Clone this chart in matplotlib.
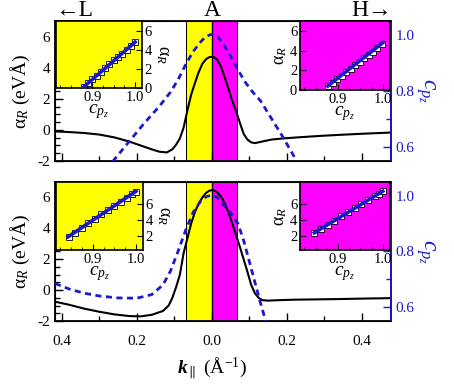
import matplotlib
matplotlib.use("Agg")
from matplotlib import pyplot as plt
from matplotlib.ticker import MultipleLocator, FuncFormatter

plt.rcParams["font.family"] = ["Liberation Serif", "DejaVu Serif"]
plt.rcParams["mathtext.fontset"] = "custom"
plt.rcParams["mathtext.rm"] = "Liberation Serif"
plt.rcParams["mathtext.it"] = "Liberation Serif:italic"
plt.rcParams["mathtext.bf"] = "Liberation Serif:bold:italic"

BLUE = "#1a1acc"
YELLOW = "#ffff00"
MAGENTA = "#ff00ff"

# ---- main panels: alpha_R (left axis) and c_pz (right axis) vs k ----
k_top = [-0.418, -0.38, -0.34, -0.30, -0.26, -0.22, -0.19, -0.16, -0.14, -0.12,
         -0.105, -0.095, -0.085, -0.075, -0.065, -0.055, -0.045, -0.035, -0.025,
         -0.015, -0.007, 0.0, 0.007, 0.015, 0.025, 0.035, 0.045, 0.055, 0.065,
         0.075, 0.085, 0.095, 0.105, 0.115, 0.125, 0.14, 0.16, 0.19, 0.23, 0.28,
         0.34, 0.40, 0.478]
alpha_top = [-0.10, -0.14, -0.20, -0.30, -0.48, -0.75, -1.00, -1.25, -1.40, -1.45,
             -1.25, -0.95, -0.55, 0.15, 1.25, 2.25, 3.00, 3.70, 4.25,
             4.55, 4.67, 4.70, 4.66, 4.50, 4.05, 3.35, 2.60, 1.85, 1.20,
             0.45, -0.25, -0.62, -0.80, -0.85, -0.80, -0.72, -0.62, -0.55, -0.48, -0.40,
             -0.32, -0.25, -0.17]

kc_top = [-0.30, -0.26, -0.22, -0.18, -0.14, -0.11, -0.09, -0.07, -0.05, -0.03,
          -0.015, 0.0, 0.015, 0.03, 0.05, 0.07, 0.09, 0.11, 0.13, 0.16, 0.19,
          0.22, 0.25]
cpz_top = [0.49, 0.555, 0.62, 0.685, 0.745, 0.796, 0.84, 0.893, 0.94, 0.975,
           0.995, 1.003, 0.995, 0.97, 0.925, 0.875, 0.83, 0.795, 0.765, 0.70, 0.635,
           0.565, 0.495]

k_bot = [-0.418, -0.38, -0.34, -0.30, -0.26, -0.22, -0.19, -0.16, -0.13, -0.115,
         -0.105, -0.095, -0.085, -0.075, -0.065, -0.055, -0.045, -0.035, -0.025,
         -0.015, -0.007, 0.0, 0.007, 0.015, 0.025, 0.035, 0.045, 0.055, 0.065,
         0.075, 0.085, 0.095, 0.105, 0.115, 0.125, 0.135, 0.15, 0.18, 0.22, 0.28,
         0.34, 0.40, 0.478]
alpha_bot = [-0.75, -0.95, -1.20, -1.40, -1.57, -1.68, -1.70, -1.60, -1.35, -1.00,
             -0.50, 0.20, 1.00, 2.40, 3.35, 4.30, 5.05, 5.60, 6.00,
             6.30, 6.43, 6.48, 6.44, 6.32, 6.05, 5.60, 5.00, 4.30, 3.55,
             2.80, 2.00, 1.20, 0.35, -0.20, -0.50, -0.65, -0.68, -0.65, -0.62, -0.60,
             -0.58, -0.55, -0.52]

kc_bot = [-0.418, -0.38, -0.34, -0.30, -0.25, -0.20, -0.16, -0.13, -0.11, -0.09,
          -0.07, -0.05, -0.03, -0.015, 0.0, 0.015, 0.03, 0.05, 0.07, 0.085, 0.10,
          0.115, 0.13, 0.145, 0.16]
cpz_bot = [0.685, 0.665, 0.65, 0.64, 0.633, 0.632, 0.645, 0.68, 0.73, 0.80,
           0.875, 0.94, 0.98, 0.997, 1.003, 0.995, 0.97, 0.94, 0.90, 0.84, 0.765,
           0.69, 0.615, 0.545, 0.47]

# ---- insets: alpha_R vs c_pz ----
c_tl = [0.880, 0.890, 0.900, 0.910, 0.920, 0.930, 0.940, 0.950, 0.960, 0.970, 0.980, 0.990, 1.000]
a_tl = [0.1, 0.5, 0.9, 1.3, 1.7, 2.1, 2.5, 2.9, 3.2, 3.6, 4.0, 4.4, 4.8]
fit_c_tl = [0.877, 1.0]
fit_a_tl = [0.0, 4.8]

c_tr = [0.878, 0.888, 0.898, 0.908, 0.918, 0.928, 0.938, 0.948, 0.958, 0.968, 0.978, 0.988, 0.998]
a_tr = [0.4, 0.75, 1.1, 1.45, 1.8, 2.15, 2.5, 2.85, 3.2, 3.55, 3.9, 4.25, 4.7]
fit_c_tr = [0.877, 1.0]
fit_a_tr = [0.4, 4.8]

c_bl = [0.845, 0.86, 0.875, 0.89, 0.905, 0.92, 0.935, 0.95, 0.965, 0.98, 0.99, 1.0]
a_bl = [1.9, 2.4, 3.0, 3.6, 4.1, 4.7, 5.3, 5.8, 6.3, 6.8, 7.2, 7.5]
fit_c_bl = [0.843, 1.0]
fit_a_bl = [1.9, 7.6]

c_br = [0.847, 0.862, 0.877, 0.892, 0.907, 0.922, 0.937, 0.952, 0.967, 0.982, 0.992, 1.0]
a_br = [2.4, 2.9, 3.4, 3.9, 4.5, 5.0, 5.5, 6.0, 6.5, 7.0, 7.3, 7.6]
fit_c_br = [0.847, 1.0]
fit_a_br = [2.4, 7.6]

band_yellow = (-0.068, 0.0)
band_magenta = (0.0, 0.068)

W, H = 454, 384
fig = plt.figure(figsize=(W / 100, H / 100), dpi=100)


def fx(px):
    return px / W


def fy(py):
    return 1 - py / H


def main_panel(top, bottom, k, alpha, kc, cpz, show_x):
    ax = fig.add_axes([fx(55), fy(bottom), fx(336), (bottom - top) / H])
    ax.axvspan(*band_yellow, facecolor=YELLOW, edgecolor="k", lw=0.7, zorder=0)
    ax.axvspan(*band_magenta, facecolor=MAGENTA, edgecolor="k", lw=0.7, zorder=0)
    ax.axvline(0, color="k", lw=1.0, zorder=1)
    ax.plot(k, alpha, color="k", lw=1.5, zorder=3)
    ax.set_xlim(-0.418, 0.478)
    ax.set_ylim(-2, 7)
    ax.xaxis.set_major_locator(MultipleLocator(0.2))
    ax.xaxis.set_minor_locator(MultipleLocator(0.1))
    ax.yaxis.set_major_locator(MultipleLocator(2))
    ax.yaxis.set_minor_locator(MultipleLocator(0.5))
    ax.tick_params(which="both", direction="in", labelsize=11, right=False, top=False)
    ax.tick_params(which="major", length=6, width=1)
    ax.tick_params(which="minor", length=3.5, width=1)
    ax.tick_params(axis="x", pad=10)
    ax.xaxis.set_major_formatter(FuncFormatter(lambda v, p: f"{abs(v):.1f}"))
    ax.yaxis.set_major_formatter(FuncFormatter(lambda v, p: f"{v:.0f}"))
    if not show_x:
        ax.set_xticklabels([])
    ax.set_ylabel(r"α$_R$ (eVÅ)", fontsize=14, labelpad=4)
    for s in ax.spines.values():
        s.set_linewidth(1.3)

    ax2 = ax.twinx()
    ax2.plot(kc, cpz, color=BLUE, lw=2.0, dashes=(2.2, 1.6), zorder=4)
    ax2.set_ylim(0.55, 1.05)
    ax2.yaxis.set_major_locator(MultipleLocator(0.2))
    ax2.yaxis.set_minor_locator(MultipleLocator(0.1))
    ax2.tick_params(which="both", direction="in", colors=BLUE, labelsize=11)
    ax2.tick_params(which="major", length=6, width=1)
    ax2.tick_params(which="minor", length=3.5, width=1)
    ax2.spines["right"].set_color(BLUE)
    ax2.spines["right"].set_linewidth(1.3)
    ax2.set_ylabel(r"$c_{p_z}$", color=BLUE, fontsize=17, rotation=-90, labelpad=16)
    return ax


def inset(rect, color, c, a, fc, fa, ylim, yticks, yside):
    ia = fig.add_axes(rect)
    ia.set_facecolor(color)
    ia.plot(c, a, ls="none", marker="s", ms=4, mfc="white", mec="k", mew=0.6, zorder=2)
    ia.plot(fc, fa, color=BLUE, lw=2.6, zorder=3)
    ia.set_xlim(0.815, 1.016)
    ia.set_ylim(*ylim)
    ia.set_xticks([0.9, 1.0])
    ia.xaxis.set_minor_locator(MultipleLocator(0.025))
    ia.set_yticks(yticks)
    ia.tick_params(which="both", direction="in", labelsize=10.5, pad=2)
    ia.tick_params(which="major", length=4)
    ia.tick_params(which="minor", length=2.5)
    ia.set_xlabel(r"$c_{p_z}$", fontsize=14, labelpad=-1)
    if yside == "right":
        ia.yaxis.tick_right()
        ia.yaxis.set_label_position("right")
        ia.set_ylabel(r"α$_R$", fontsize=13, rotation=-90, labelpad=14)
    else:
        ia.set_ylabel(r"α$_R$", fontsize=13, labelpad=1)
    for s in ia.spines.values():
        s.set_linewidth(1.2)
    return ia


main_panel(21, 161, k_top, alpha_top, kc_top, cpz_top, False)
main_panel(182, 321, k_bot, alpha_bot, kc_bot, cpz_bot, True)
fig.text(fx(212), fy(368), r"$\mathbf{k}_{\parallel}$ (Å$^{-1}$)", fontsize=14, ha="center", va="center")

inset([fx(56), fy(88), fx(86), 67 / H], YELLOW, c_tl, a_tl, fit_c_tl, fit_a_tl, (0, 7), [0, 2, 4, 6], "right")
inset([fx(300), fy(90), fx(90), 69 / H], MAGENTA, c_tr, a_tr, fit_c_tr, fit_a_tr, (0, 7), [0, 2, 4, 6], "left")
inset([fx(56), fy(250), fx(87), 68 / H], YELLOW, c_bl, a_bl, fit_c_bl, fit_a_bl, (0.25, 8.75), [2, 4, 6], "right")
inset([fx(300), fy(250), fx(90), 68 / H], MAGENTA, c_br, a_br, fit_c_br, fit_a_br, (0.25, 8.75), [2, 4, 6], "left")

fig.text(fx(55), fy(10), "←L", fontsize=17, ha="left", va="center")
fig.text(fx(212), fy(10), "A", fontsize=17, ha="center", va="center")
fig.text(fx(392), fy(10), "H→", fontsize=17, ha="right", va="center")

fig.savefig("out.png", dpi=100)
